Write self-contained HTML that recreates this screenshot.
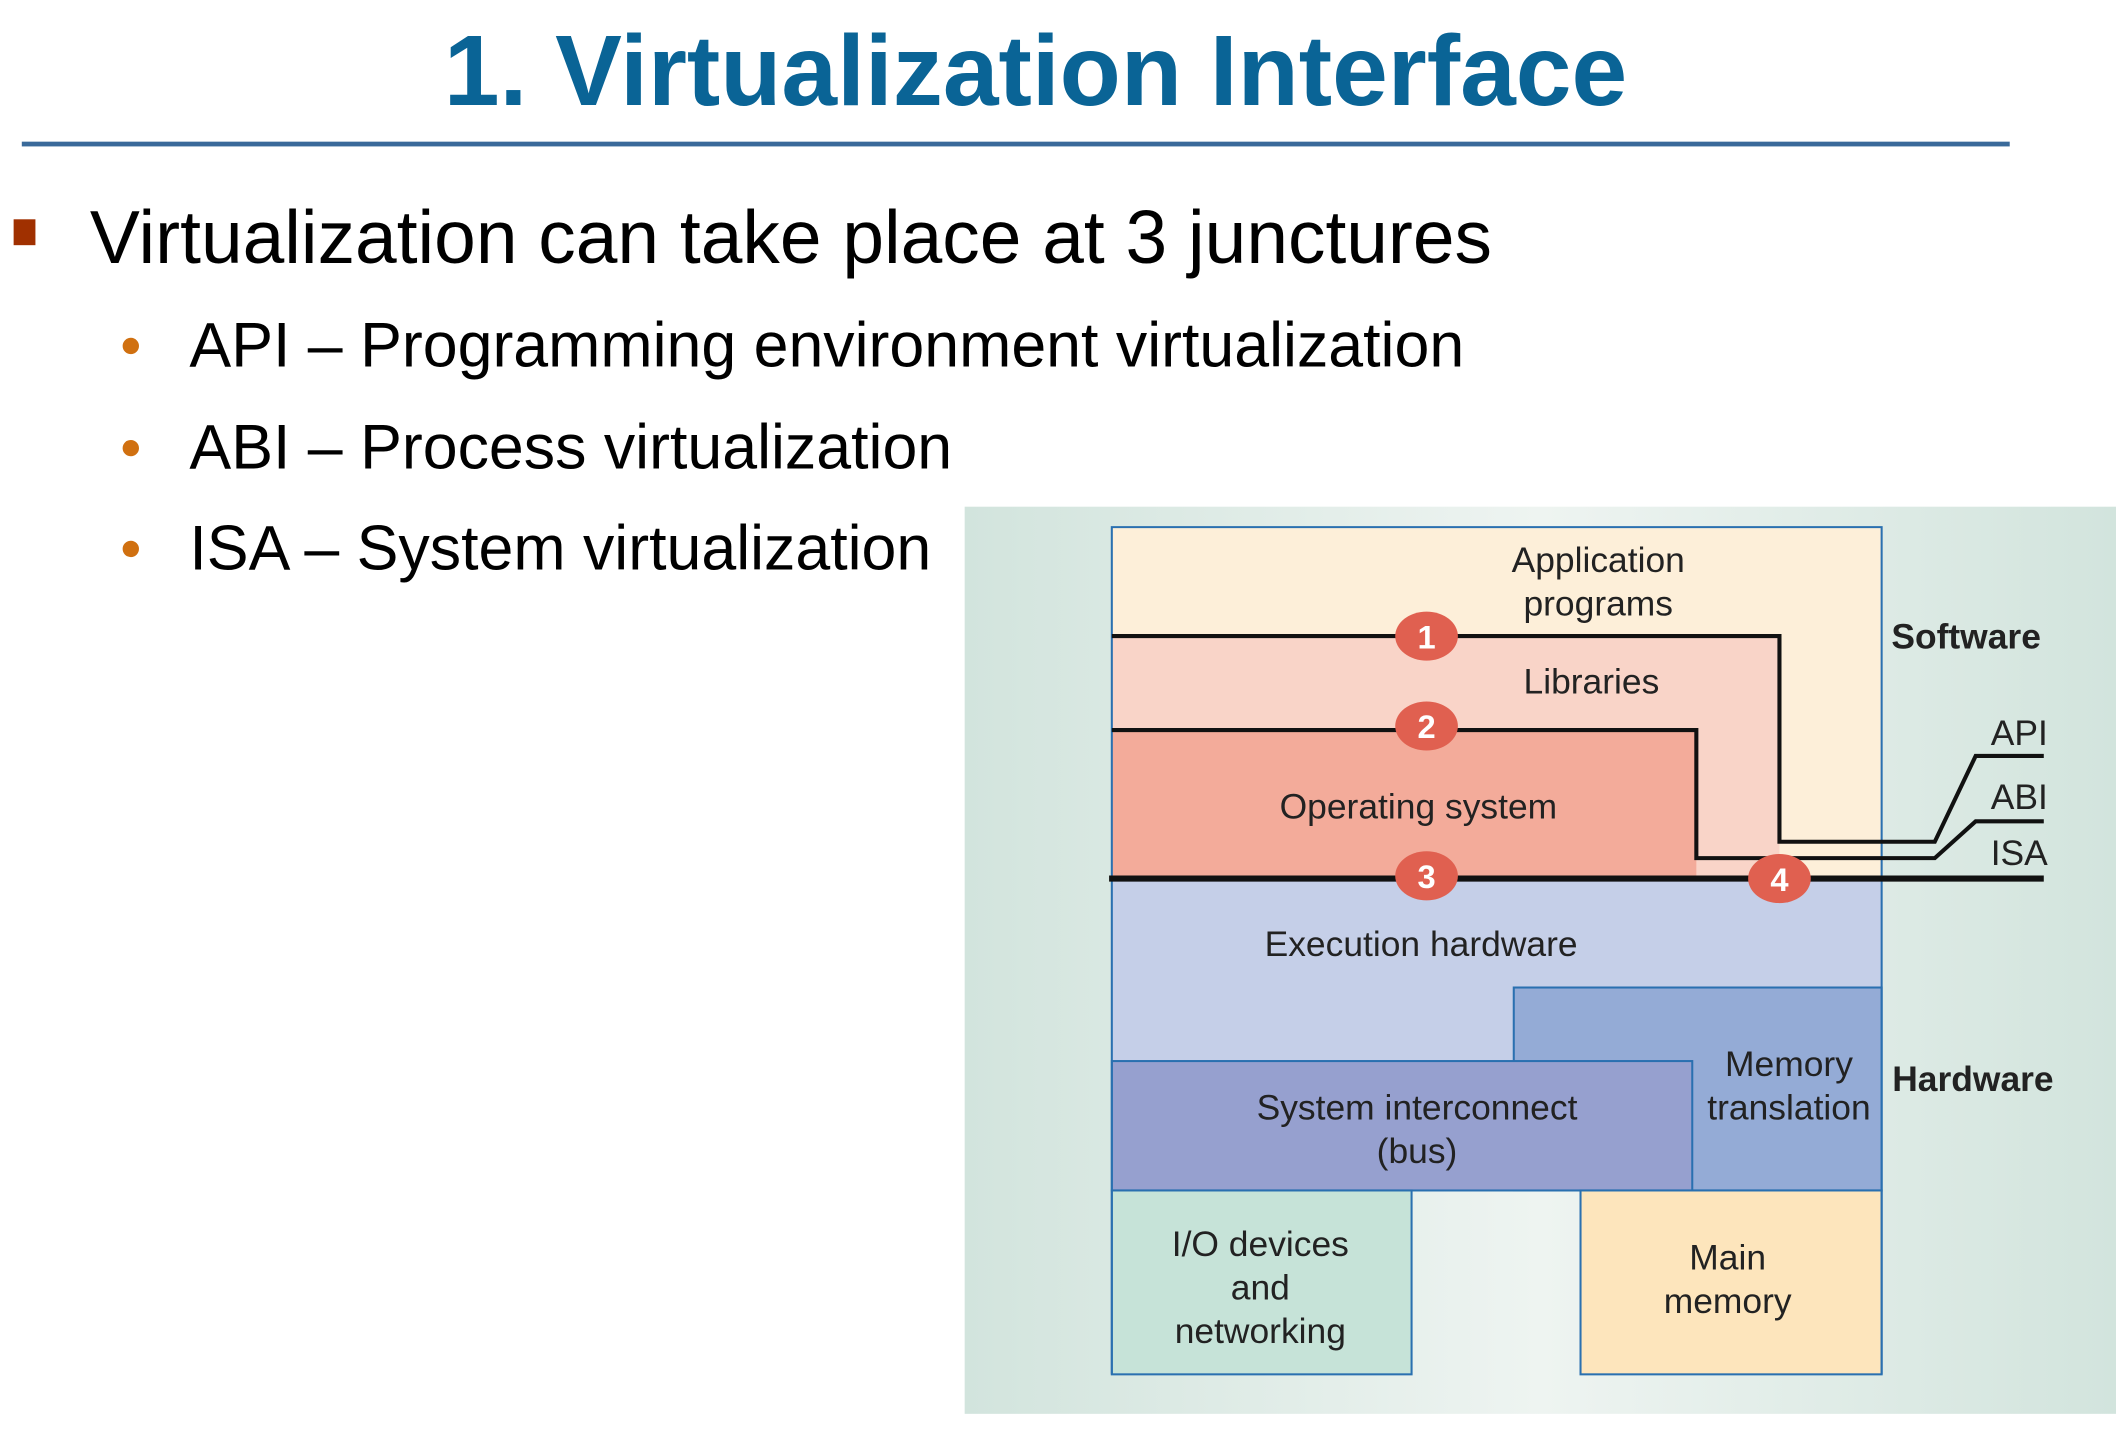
<!DOCTYPE html>
<html><head><meta charset="utf-8"><style>
html,body{margin:0;padding:0;background:#fff;}
svg{display:block;}
text{font-family:"Liberation Sans",Arial,sans-serif;}
</style></head><body>
<svg width="2116" height="1437" viewBox="0 0 1553 1055" preserveAspectRatio="none" xmlns="http://www.w3.org/2000/svg">
<defs>
<linearGradient id="bg" x1="0" x2="1" y1="0" y2="0">
<stop offset="0" stop-color="#d2e4dd"/><stop offset="0.5" stop-color="#eef4f1"/><stop offset="1" stop-color="#d2e4dd"/>
</linearGradient>
</defs>
<text x="760" y="77" text-anchor="middle" font-size="73.5" font-weight="bold" fill="#0a6496">1. Virtualization Interface</text>
<rect x="16" y="104" width="1459" height="3.5" fill="#3a6a9a"/>
<rect x="10" y="161" width="16" height="19" fill="#a03000"/>
<text x="66" y="193" font-size="55" fill="#000">Virtualization can take place at 3 junctures</text>
<g font-size="46" fill="#000">
<circle cx="96" cy="254" r="6" fill="#d07010"/><text x="139" y="269">API – Programming environment virtualization</text>
<circle cx="96" cy="329" r="6" fill="#d07010"/><text x="139" y="344">ABI – Process virtualization</text>
<circle cx="96" cy="403" r="6" fill="#d07010"/><text x="139" y="418">ISA – System virtualization</text>
</g>
<rect x="708" y="372" width="845" height="666" fill="url(#bg)"/>
<rect x="816" y="387" width="565" height="258" fill="#fdefd9"/>
<path d="M816 467 H1306 V645 H816 Z" fill="#f9d4c8"/>
<rect x="816" y="536" width="429" height="109" fill="#f3ab9a"/>
<rect x="816" y="645" width="565" height="134" fill="#c5cfe8"/>
<rect x="1111" y="725" width="270" height="149" fill="#94abd6" stroke="#2a70b0" stroke-width="1.5"/>
<rect x="816" y="779" width="426" height="95" fill="#96a0cf" stroke="#2a70b0" stroke-width="1.5"/>
<rect x="816" y="874" width="220" height="135" fill="#c6e3d8" stroke="#2a70b0" stroke-width="1.5"/>
<rect x="1160" y="874" width="221" height="135" fill="#fde5bc" stroke="#2a70b0" stroke-width="1.5"/>
<path d="M816 1009 V387 H1381 V1009" fill="none" stroke="#2a70b0" stroke-width="1.5"/>
<g fill="none" stroke="#111" stroke-width="3">
<path d="M816 467 H1306 V618 H1420 L1450 555 H1500"/>
<path d="M816 536 H1245 V630 H1420 L1450 603 H1500"/>
</g>
<line x1="814" y1="645" x2="1500" y2="645" stroke="#111" stroke-width="4.5"/>
<g fill="#e06050">
<ellipse cx="1047" cy="467" rx="23" ry="18"/><ellipse cx="1047" cy="533" rx="23" ry="18"/>
<ellipse cx="1047" cy="643" rx="23" ry="18"/><ellipse cx="1306" cy="645" rx="23" ry="18"/>
</g>
<g font-size="24" font-weight="bold" fill="#fff" text-anchor="middle">
<text x="1047" y="476">1</text><text x="1047" y="542">2</text><text x="1047" y="652">3</text><text x="1306" y="654">4</text>
</g>
<g font-size="26" fill="#222" text-anchor="middle">
<text x="1173" y="420">Application</text><text x="1173" y="452">programs</text>
<text x="1168" y="509">Libraries</text>
<text x="1041" y="601">Operating system</text>
<text x="1043" y="702">Execution hardware</text>
<text x="1040" y="822">System interconnect</text><text x="1040" y="854">(bus)</text>
<text x="1313" y="790">Memory</text><text x="1313" y="822">translation</text>
<text x="925" y="922">I/O devices</text><text x="925" y="954">and</text><text x="925" y="986">networking</text>
<text x="1268" y="932">Main</text><text x="1268" y="964">memory</text>
<text x="1482" y="547">API</text><text x="1482" y="594">ABI</text><text x="1482" y="635">ISA</text>
</g>
<g font-size="26" font-weight="bold" fill="#222" text-anchor="middle">
<text x="1443" y="476">Software</text><text x="1448" y="801">Hardware</text>
</g>
</svg>
</body></html>
